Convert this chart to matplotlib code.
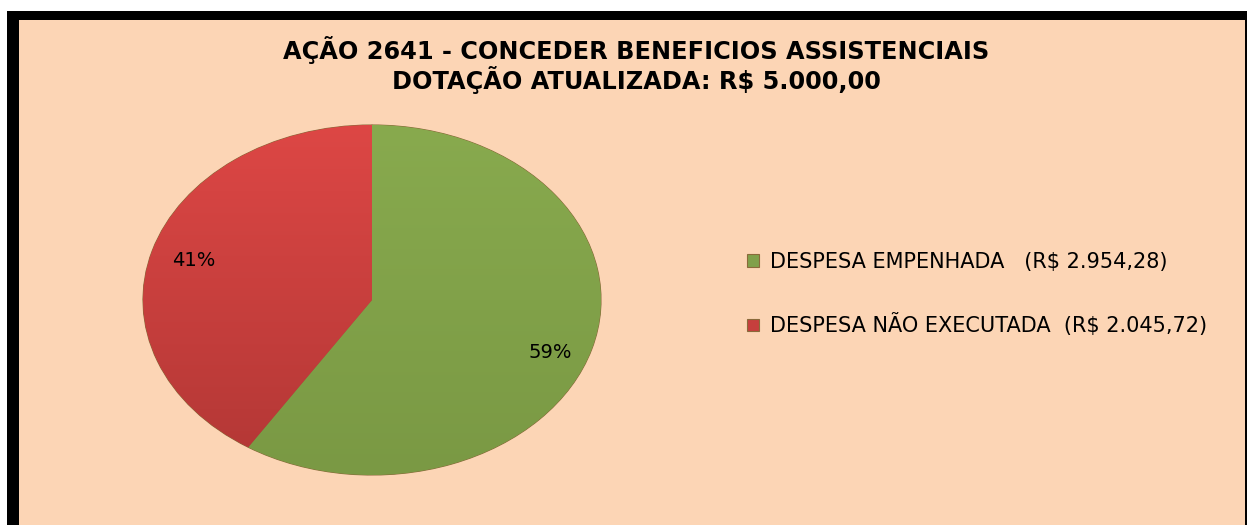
import matplotlib
matplotlib.use("Agg")
import matplotlib.pyplot as plt
import numpy as np
from matplotlib.patches import Rectangle
from matplotlib.colors import LinearSegmentedColormap

title_lines = ["AÇÃO 2641 - CONCEDER BENEFICIOS ASSISTENCIAIS",
               "DOTAÇÃO ATUALIZADA: R$ 5.000,00"]
categories = ["DESPESA EMPENHADA   (R$ 2.954,28)",
              "DESPESA NÃO EXECUTADA  (R$ 2.045,72)"]
values = [2954.28, 2045.72]
colors = ["#80A04A", "#C63F3D"]
grad_top = ["#88AA4E", "#DD4745"]
grad_bot = ["#7A9944", "#B23735"]

W, H = 1247, 525
fig = plt.figure(figsize=(W / 100, H / 100), dpi=100)
fig.patch.set_facecolor("white")

# frame
fig.patches.append(Rectangle((7 / W, 0), (W - 7) / W, (H - 11) / H,
                             transform=fig.transFigure, facecolor="black",
                             edgecolor="none", zorder=-10))
fig.patches.append(Rectangle((19 / W, 0), (1245 - 19) / W, (H - 20) / H,
                             transform=fig.transFigure, facecolor="#FCD5B5",
                             edgecolor="none", zorder=-9))

fig.text(636 / W, 1 - 50 / H, title_lines[0], ha="center", va="center",
         fontsize=17.3, fontweight="bold", family="DejaVu Sans", color="black")
fig.text(636 / W, 1 - 80 / H, title_lines[1], ha="center", va="center",
         fontsize=17.3, fontweight="bold", family="DejaVu Sans", color="black")

ax = fig.add_axes([143 / W, 50 / H, 458 / W, 350 / H])
ax.set_zorder(1)
ax.set_facecolor("none")
wedges, texts, autotexts = ax.pie(
    values, colors=colors, startangle=90, counterclock=False,
    autopct="%1.0f%%", pctdistance=0.81,
    wedgeprops=dict(edgecolor="#8A6A3A", linewidth=0.8),
    textprops=dict(fontsize=14, family="DejaVu Sans", color="black"))
ax.set_aspect("auto")

# vertical gradient shading inside each wedge
for w, ct, cb in zip(wedges, grad_top, grad_bot):
    cmap = LinearSegmentedColormap.from_list("g", [cb, ct])
    grad = np.linspace(0, 1, 256).reshape(-1, 1)
    im = ax.imshow(grad, extent=(-1, 1, -1, 1), origin="lower", cmap=cmap,
                   aspect="auto", zorder=w.get_zorder() + 0.1)
    im.set_clip_path(w)
ax.set_xlim(-1, 1)
ax.set_ylim(-1, 1)
ax.axis("off")
for t in autotexts:
    t.set_zorder(5)
# nudge the 59% label slightly lower, as in the original
x0, y0 = autotexts[0].get_position()
autotexts[0].set_position((x0, y0 - 0.07))

leg = fig.legend(wedges, categories, loc="center left",
                 bbox_to_anchor=(728 / W, 1 - 294 / H), frameon=False,
                 prop=dict(family="DejaVu Sans", size=15),
                 handlelength=0.6, handleheight=0.55, handletextpad=0.5,
                 labelspacing=2.0)

fig.savefig("out.png", dpi=100)
